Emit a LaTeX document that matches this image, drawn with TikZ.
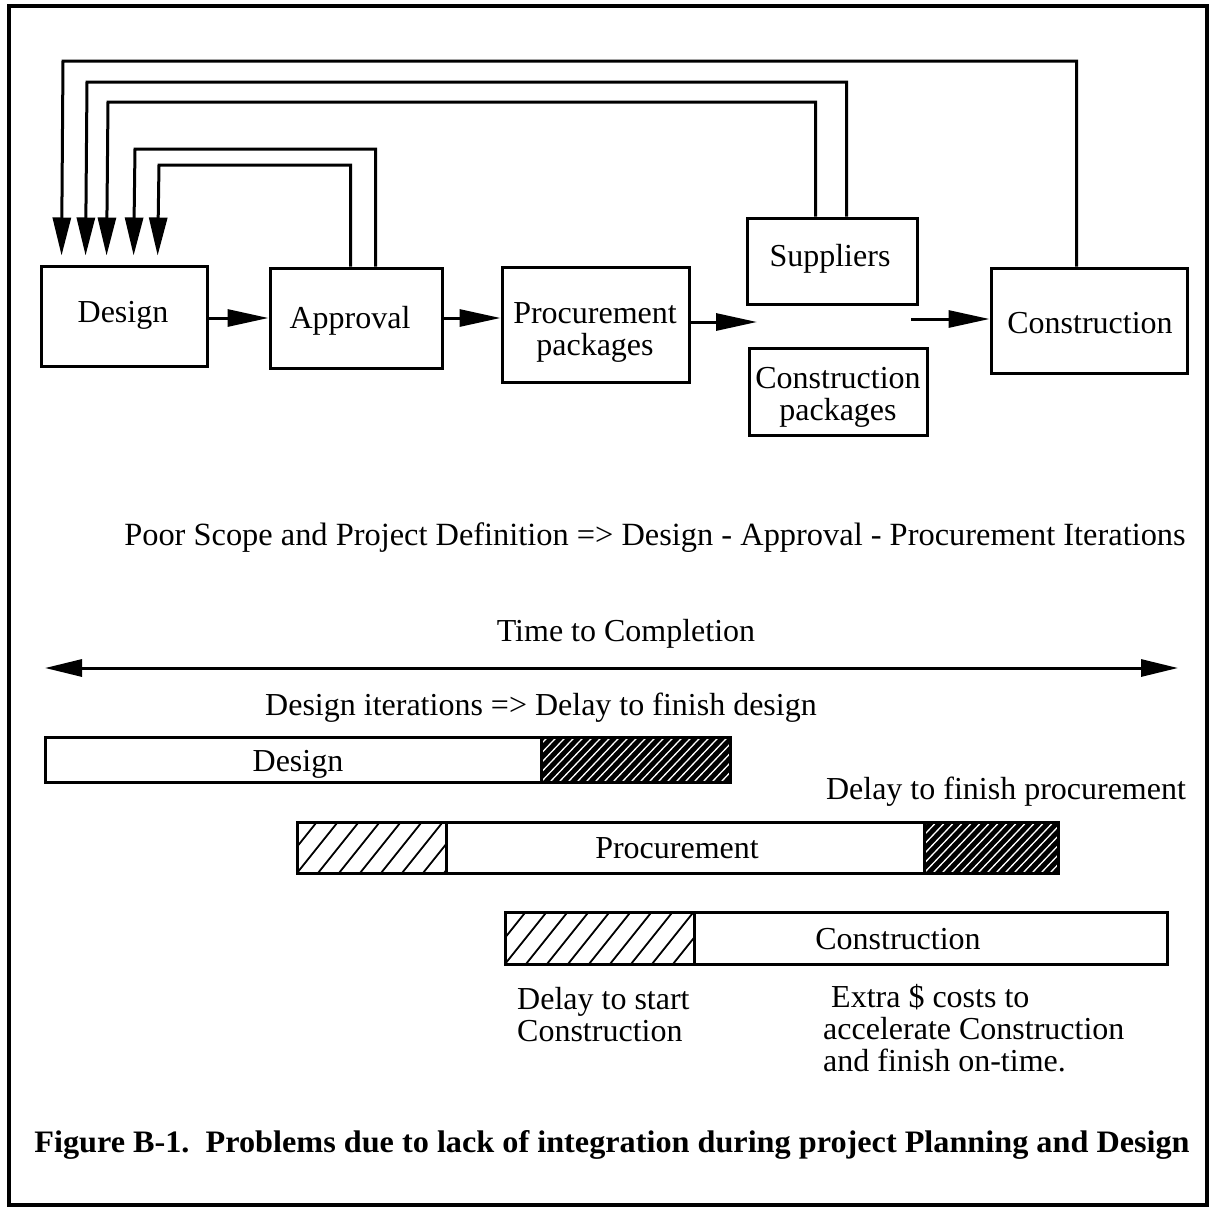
\documentclass[tikz,border=0pt]{standalone}
\usepackage{fontspec}
\usepackage{graphicx}
\setmainfont{Liberation Serif}
\usetikzlibrary{arrows.meta,calc}
\newcommand\lhatchrect[4]{%
  \begin{scope}
    \clip (#1,#2) rectangle (#3,#4);
    \pgfmathsetmacro\hh{#4-#2}
    \pgfmathtruncatemacro\nn{(#3-#1)/21+2}
    \foreach \k in {-3,...,\nn} {\draw[line width=1.8pt] ({#1+\k*21},#4) -- ++({0.8*\hh},{-\hh});}
  \end{scope}}
\newcommand\dhatchrect[4]{%
  \begin{scope}
    \clip (#1,#2) rectangle (#3,#4);
    \fill[black] (#1,#2) rectangle (#3,#4);
    \pgfmathsetmacro\hh{#4-#2}
    \pgfmathtruncatemacro\nn{(#3-#1)/9+2}
    \foreach \k in {-6,...,\nn} {\draw[white,line width=1.3pt] ({#1+\k*9},#4) -- ++({0.95*\hh},{-\hh});}
  \end{scope}}
\begin{document}
\begin{tikzpicture}[x=1pt,y=-1pt,
  txt/.style={inner sep=0pt,font=\fontsize{32}{32}\selectfont},
  box/.style={draw,line width=3pt,inner sep=0pt},
  bar/.style={draw,line width=3pt,inner sep=0pt},
  fb/.style={line width=3pt,-{Triangle[length=38pt,width=18pt]},shorten >=9pt},
  conn/.style={line width=3pt,-{Triangle[length=41pt,width=17pt]}},
  dbl/.style={line width=3pt,{Triangle[length=37pt,width=17pt]}-{Triangle[length=37pt,width=17pt]}},
]
\useasboundingbox (0,0) rectangle (1211,1208);
\draw[line width=3.2pt] (9,6) rectangle (1207,1205);

% process boxes
\node[box,minimum width=166pt,minimum height=100pt] (design) at (124,316) {};
\node[box,minimum width=172pt,minimum height=100pt] (approval) at (356,318) {};
\node[box,minimum width=187pt,minimum height=115pt] (procure) at (595.5,324.5) {};
\node[box,minimum width=170pt,minimum height=86pt] (suppliers) at (832,261) {};
\node[box,minimum width=178pt,minimum height=87pt] (cpack) at (838,391.5) {};
\node[box,minimum width=196pt,minimum height=105pt] (constr) at (1089,320.5) {};
\node[txt] (designt) at (123,315) {Design};
\node[txt] (approvalt) at (350,321) {Approval};
\node[txt,align=center] (procuret) at (595,332) {Procurement\\packages};
\node[txt] (supplierst) at (830,259) {Suppliers};
\node[txt,align=center] (cpackt) at (838,397) {Construction\\packages};
\node[txt] (constrt) at (1090,323) {Construction};

% forward arrows
\coordinate (pend) at (757,322);
\coordinate (cstart) at (911,319);
\draw[conn] (design.east |- approval.west) -- (approval.west);
\draw[conn] (approval.east) -- (procure.west |- approval.east);
\draw[conn] (procure.east |- pend) -- (pend);
\draw[conn] (cstart) -- (constr.west |- cstart);

% feedback loops
\coordinate (c1) at (63,61);
\coordinate (c2) at (87,82);
\coordinate (c3) at (108,102);
\coordinate (c4) at (135,149);
\coordinate (c5) at (159,165);
\draw[fb] ([xshift=82pt]approval.north west) |- (c5) -- ([xshift=118pt]design.north west);
\draw[fb] ([xshift=107pt]approval.north west) |- (c4) -- ([xshift=94pt]design.north west);
\draw[fb] ([xshift=70pt]suppliers.north west) |- (c3) -- ([xshift=67pt]design.north west);
\draw[fb] ([xshift=101pt]suppliers.north west) |- (c2) -- ([xshift=46pt]design.north west);
\draw[fb] ([xshift=87pt]constr.north west) |- (c1) -- ([xshift=22pt]design.north west);

% texts
\node[txt,font=\fontsize{32.4}{32}\selectfont] (poor) at (655,538) {Poor Scope and Project Definition => Design - Approval - Procurement Iterations};
\node[txt] (time) at (626,634) {Time to Completion};
\coordinate (tl) at (45,668);
\coordinate (tr) at (1178,668);
\draw[dbl] (tl) -- (tr);
\node[txt] (iter) at (541,708) {Design iterations => Delay to finish design};
\node[txt] (dfp) at (1006,792) {Delay to finish procurement};

% bars
\dhatchrect{541}{737}{730}{782}
\lhatchrect{297}{822}{446}{873}
\dhatchrect{924}{822}{1058}{873}
\lhatchrect{505}{912}{694}{964}
\node[bar,minimum width=685pt,minimum height=45pt] (dbar) at (387.5,759.5) {};
\node[bar,minimum width=761pt,minimum height=51pt] (pbar) at (677.5,847.5) {};
\node[bar,minimum width=662pt,minimum height=52pt] (cbar) at (836,938) {};
\draw[line width=3pt] (541,737) -- (541,782);
\draw[line width=3pt] (446,822) -- (446,873);
\draw[line width=3pt] (924,822) -- (924,873);
\draw[line width=3pt] (694,912) -- (694,964);
\node[txt] (dlab) at (298,764) {Design};
\node[txt] (plab) at (677,848) {Procurement};
\node[txt] (clab) at (898,939) {Construction};

\node[txt,anchor=west,align=left] (dsc) at (517,1015) {Delay to start\\Construction};
\node[txt,anchor=west,align=left] (extra) at (823,1028) {\ Extra \$ costs to\\accelerate Construction\\and finish on-time.};

\node[inner sep=0pt] (cap) at (612,1145) {\resizebox{1155pt}{22pt}{\bfseries Figure B-1.\ \ Problems due to lack of integration during project Planning and Design}};
\end{tikzpicture}
\end{document}
